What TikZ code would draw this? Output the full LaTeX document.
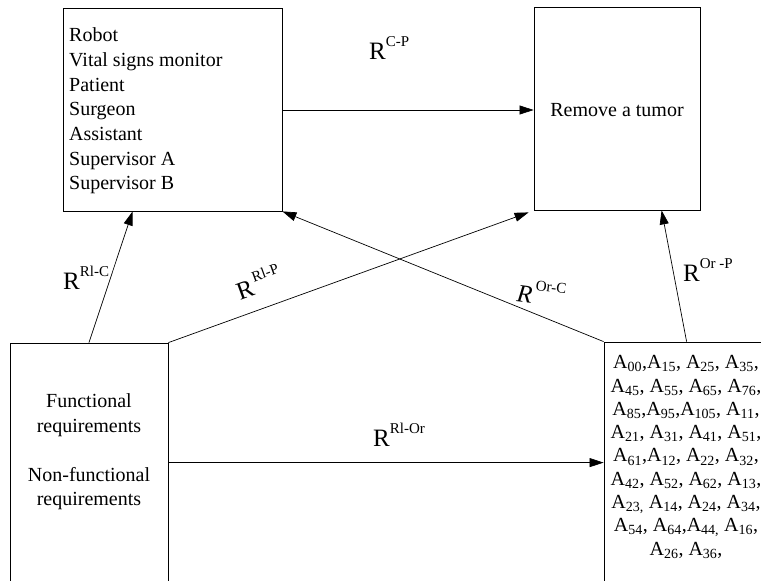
\documentclass[tikz,border=0pt]{standalone}
\usepackage{fontspec}
\setmainfont{Liberation Serif}
\usetikzlibrary{arrows.meta,calc}
\newcommand{\Asub}[1]{A\textsubscript{#1}}
\newcommand{\rlab}[2]{{\fontsize{25}{25}\selectfont #1}\raisebox{12.5pt}{\fontsize{15}{15}\selectfont #2}}
\newcommand{\rlabk}[2]{{\fontsize{25}{25}\selectfont #1}\kern2.5pt\raisebox{13pt}{\fontsize{15}{15}\selectfont #2}}
\begin{document}
\begin{tikzpicture}[x=1pt,y=-1pt,
  box/.style={draw=black,line width=0.8pt,inner sep=0pt},
  txt/.style={inner sep=0pt,font=\fontsize{20}{24.7}\selectfont},
  lab/.style={inner sep=0pt},
  arr/.style={draw=black,line width=0.7pt,-{Triangle[length=14pt,width=9pt]}}]
\useasboundingbox (0,0) rectangle (761,581);
\clip (0,0) rectangle (761,581);
% boxes
\node[box,minimum width=219pt,minimum height=203pt] (C) at (172.5,109.5) {};
\node[box,minimum width=166pt,minimum height=203pt] (P) at (617,108.5) {};
\node[box,minimum width=158pt,minimum height=277pt] (Rl) at (89,481.5) {};
\node[box,minimum width=166pt,minimum height=278pt] (Or) at (687,481) {};
% texts
\node[txt,anchor=west,align=left] (Ctext) at (69,111) {Robot\\Vital signs monitor\\Patient\\Surgeon\\Assistant\\Supervisor A\\Supervisor B};
\node[txt] (Ptext) at (617,110) {Remove a tumor};
\node[txt,align=center,font=\fontsize{20}{24.5}\selectfont] (Rltext) at (89,452) {Functional\\requirements\\[24.5pt]Non-functional\\requirements};
\node[txt,align=center,font=\fontsize{20}{23.3}\selectfont] (Ortext) at (686,457) {%
\Asub{00},\Asub{15}, \Asub{25}, \Asub{35},\\
\Asub{45}, \Asub{55}, \Asub{65}, \Asub{76},\\
\Asub{85},\Asub{95},\Asub{105}, \Asub{11},\\
\Asub{21}, \Asub{31}, \Asub{41}, \Asub{51},\\
\Asub{61},\Asub{12}, \Asub{22}, \Asub{32},\\
\Asub{42}, \Asub{52}, \Asub{62}, \Asub{13},\\
\Asub{23,} \Asub{14}, \Asub{24}, \Asub{34},\\
\Asub{54}, \Asub{64},\Asub{44,} \Asub{16},\\
\Asub{26}, \Asub{36},};
% connectors
\coordinate (hs) at ($(Rl.north east)+(0,120)$);
\draw[arr] (C.east |- 0,110) -- (P.west |- 0,110);
\draw[arr] (Rl.north) -- ($(C.south west)+(70,0)$);
\draw[arr] (Rl.north east) -- ($(P.south west)+(-5,2)$);
\draw[arr] (Or.north west) -- (C.south east);
\draw[arr] ($(Or.north west)+(83,0)$) -- ($(P.south west)+(128,0)$);
\draw[arr] (hs) -- (Or.west |- hs);
% labels
\node[lab,anchor=base west] (lCP) at (369,59) {\rlab{R}{C-P}};
\node[lab,anchor=base west] (lRlC) at (63,289) {\rlab{R}{Rl-C}};
\node[lab,anchor=base west,rotate=20] (lRlP) at (240,301) {\rlabk{R}{Rl-P}};
\node[lab,anchor=base west,rotate=-7] (lOrC) at (516,301) {\rlabk{\textit{R}}{Or-C}};
\node[lab,anchor=base west] (lOrP) at (683,281) {\rlab{R}{Or -P}};
\node[lab,anchor=base west] (lRlOr) at (373,446) {\rlab{R}{Rl-Or}};
\end{tikzpicture}
\end{document}
